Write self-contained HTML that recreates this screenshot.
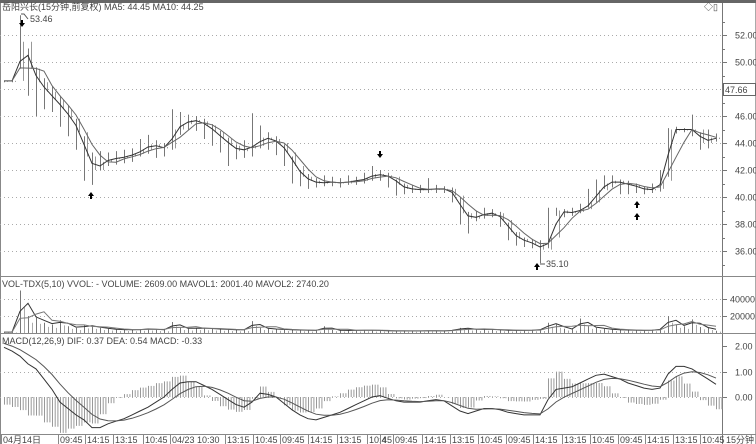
<!DOCTYPE html>
<html><head><meta charset="utf-8">
<style>
html,body{margin:0;padding:0;background:#fff;}
body{width:756px;height:444px;overflow:hidden;position:relative;font-family:"Liberation Sans","Noto Sans CJK SC",sans-serif;}
svg{position:absolute;left:0;top:0;}
text{font-family:"Liberation Sans","Noto Sans CJK SC",sans-serif;font-size:9px;fill:#444;}
</style></head>
<body>
<svg id="chart" width="756" height="444" viewBox="0 0 756 444"></svg>
<script>
const closes=[48.6,48.6,51.5,49.5,48.5,47.8,47.2,46.5,45.8,44.8,43.0,42.0,42.6,42.8,42.9,43.0,43.2,43.5,43.9,43.7,43.6,45.0,45.4,45.7,45.6,45.3,44.8,44.3,43.8,43.4,43.6,43.8,44.4,44.3,44.0,43.3,42.3,41.5,41.2,41.0,41.1,41.1,41.0,41.2,41.2,41.4,41.7,41.6,41.5,40.9,40.6,40.6,40.5,40.6,40.6,40.6,40.1,38.8,38.4,38.6,38.8,38.8,38.3,37.4,36.9,36.7,36.5,36.1,37.0,39.0,38.8,38.9,39.1,39.6,40.5,41.0,41.2,41.0,40.9,40.7,40.5,40.6,41.2,45.0,45.0,45.0,45.0,44.0,44.4,44.3];
const highs=[48.6,48.7,53.46,51.0,49.6,48.8,48.2,47.5,46.8,45.8,44.5,43.3,43.4,43.3,43.4,43.5,43.6,44.3,44.6,44.2,44.0,46.5,46.3,46.1,46.0,45.8,45.4,44.9,44.4,43.9,44.2,46.2,45.3,44.8,44.5,43.9,43.0,42.0,41.7,41.4,41.6,41.5,41.4,41.6,41.5,41.8,42.3,42.0,41.8,41.3,41.0,40.9,40.9,41.4,40.9,40.8,40.7,40.0,38.9,39.0,39.2,39.1,38.9,38.1,37.4,37.0,36.9,36.8,39.2,39.2,39.1,39.2,39.5,40.6,41.3,41.6,41.6,41.3,41.2,41.0,40.8,41.0,42.0,45.1,45.2,45.1,46.1,44.8,45.0,44.7];
const lows=[48.5,48.5,49.5,47.5,46.0,46.5,46.3,45.2,44.5,43.5,41.2,40.9,42.0,42.3,42.4,42.5,42.6,43.0,43.2,42.9,43.0,43.5,44.6,45.0,44.9,44.3,43.8,43.3,42.3,42.8,42.9,43.0,43.6,43.5,43.1,42.3,41.0,40.8,40.6,40.7,40.8,40.8,40.7,40.9,40.9,41.0,41.2,41.2,40.7,40.1,40.2,40.3,40.3,40.3,40.3,40.3,39.6,38.0,37.3,38.2,38.4,38.5,37.8,36.8,36.4,36.3,36.2,35.1,36.2,38.6,38.5,38.6,38.8,39.2,39.6,40.6,40.7,40.2,40.2,40.3,40.2,40.3,40.4,41.5,44.7,44.8,44.5,43.5,43.6,44.1];
const volumes=[1000,1000,50000,20000,18000,12000,10000,15000,8000,6000,9000,8000,6000,5000,4000,4000,3500,4500,5000,4000,3500,13000,6000,5000,6000,5500,5000,4500,4000,3500,4000,14000,6000,5000,4500,4000,3500,3500,3000,3000,8000,3500,3000,3000,3000,3500,3000,3000,2500,2500,2500,2500,2500,3000,2500,2500,3500,6000,5000,4000,4500,4000,3500,3000,3000,3000,3500,4000,12000,10000,5000,4500,17000,8000,6000,5000,4000,3500,3500,3000,3000,3500,5000,20000,10000,8000,16000,7000,6000,2600];
const difs=[1.95,1.8,1.6,1.3,1.1,0.7,0.3,-0.2,-0.45,-0.7,-0.9,-1.2,-1.2,-1.05,-0.95,-0.85,-0.7,-0.55,-0.4,-0.2,0.0,0.3,0.55,0.6,0.6,0.45,0.3,0.1,-0.1,-0.3,-0.4,-0.2,0.15,0.1,0.0,-0.25,-0.5,-0.7,-0.85,-0.9,-0.8,-0.7,-0.6,-0.45,-0.3,-0.15,0.0,0.05,-0.05,-0.15,-0.2,-0.2,-0.2,-0.15,-0.1,-0.15,-0.35,-0.55,-0.65,-0.55,-0.45,-0.45,-0.5,-0.6,-0.65,-0.7,-0.7,-0.7,-0.1,0.3,0.35,0.4,0.55,0.7,0.85,0.9,0.8,0.7,0.55,0.45,0.35,0.3,0.35,0.9,1.2,1.2,1.1,0.9,0.7,0.5];
const priceTicks=[52,50,46,44,42,40,38,36];
const volTicks=[40000,20000];
const macdTicks=[2,1,0];
const xLabels=["04月14日","09:45","14:15","13:15","10:45","04/23 10:30","13:15","10:45","09:45","14:15","13:15","10:4","45","09:45","14:15","13:15","10:45","09:45","14:15","13:15","10:45","09:45","14:15","13:15","10:45"];
const xLabelPos=[1,58,85,113,143,170,225,253,280,308,337,367,380,393,422,450,478,506,533,562,590,618,645,673,700];

const NS="http://www.w3.org/2000/svg";
const svg=document.getElementById('chart');
function el(tag,attrs,parent){const e=document.createElementNS(NS,tag);for(const k in attrs)e.setAttribute(k,attrs[k]);(parent||svg).appendChild(e);return e;}
const PW=723;
const xOf=i=>4+i*8;
const yP=p=>35+(52-p)*13.5;
const yV=v=>333-v*17/20000;
const yM=m=>397-m*25.5;

let e;
e=el('rect',{x:0,y:0,width:756,height:3,fill:'#666'});

e=el('line',{x1:0.5,y1:3,x2:0.5,y2:444,stroke:'#888'});
e=el('line',{x1:722.5,y1:3,x2:722.5,y2:444,stroke:'#777'});

e=el('line',{x1:755.5,y1:3,x2:755.5,y2:444,stroke:'#aaa'});
[276.5,333.5].forEach(y=>{el('line',{x1:0,y1:y,x2:756,y2:y,stroke:'#888'});});
e=el('line',{x1:0,y1:434.5,x2:756,y2:434.5,stroke:'#888'});


const g1=el('g',{});
priceTicks.forEach(p=>{const y=Math.round(yP(p))+0.5;el('line',{x1:0,y1:y,x2:PW,y2:y,stroke:'#aaa','stroke-dasharray':'1,3'},g1);el('line',{x1:PW,y1:y,x2:PW+4,y2:y,stroke:'#777'},g1);const t=el('text',{x:735,y:y+3},g1);t.textContent=p.toFixed(2);});
for(let p=35;p<=53;p+=1){const y=Math.round(yP(p))+0.5;el('line',{x1:PW,y1:y,x2:PW+2,y2:y,stroke:'#777'},g1);}
e=el('line',{x1:0,y1:89.5,x2:PW,y2:89.5,stroke:'#aaa','stroke-dasharray':'1,3'});
e=el('rect',{x:723.5,y:83.5,width:32,height:12,fill:'#fff',stroke:'#666'});

e=el('text',{x:725,y:93});e.textContent='47.66';


const g2=el('g',{});
volTicks.forEach(v=>{const y=Math.round(yV(v))+0.5;el('line',{x1:0,y1:y,x2:PW,y2:y,stroke:'#aaa','stroke-dasharray':'1,3'},g2);el('line',{x1:PW,y1:y,x2:PW+4,y2:y,stroke:'#777'},g2);const t=el('text',{x:730,y:y+3},g2);t.textContent=v;});
const g3=el('g',{});
macdTicks.forEach(m=>{const y=Math.round(yM(m))+0.5;if(m<2)el('line',{x1:0,y1:y,x2:PW,y2:y,stroke:'#aaa','stroke-dasharray':'1,3'},g3);el('line',{x1:PW,y1:y,x2:PW+4,y2:y,stroke:'#777'},g3);const t=el('text',{x:735,y:y+3},g3);t.textContent=m.toFixed(2);});

const gc=el('g',{});
closes.forEach((c,i)=>{
  const x=xOf(i)+0.5;
  const b=el('line',{x1:x,y1:yP(highs[i]),x2:x,y2:yP(lows[i]),stroke:'#777','stroke-width':1},gc);
  
  const o=i>0?closes[i-1]:c;
  const x2=x+3;
  const r=el('line',{x1:x2,y1:yP(o),x2:x2,y2:yP(c)+(o===c?1:0),stroke:'#999','stroke-width':1},gc);
  
});
function ma(arr,n){return arr.map((v,i)=>{const s=arr.slice(Math.max(0,i-n+1),i+1);return s.reduce((a,b)=>a+b,0)/s.length;});}
function pline(vals,yf,stroke,name){const p=vals.map((v,i)=>(i?'L':'M')+xOf(i)+','+yf(v).toFixed(1)).join('');const l=el('path',{d:p,fill:'none',stroke:stroke,'stroke-width':1});return l;}
pline(ma(closes,2),yP,'#333','ma5-line');
pline(ma(closes,4),yP,'#666','ma10-line');

const gv=el('g',{});
volumes.forEach((v,i)=>{const x=xOf(i)+0.5;const b=el('line',{x1:x,y1:333,x2:x,y2:yV(v),stroke:'#777'},gv);const b2=el('line',{x1:x+4,y1:333,x2:x+4,y2:yV(v*0.6),stroke:'#aaa'},gv);});
pline(ma(volumes,2),yV,'#333','mavol1-line');
pline(ma(volumes,4),yV,'#777','mavol2-line');

const deas=[];difs.forEach((d,i)=>{deas.push(i?deas[i-1]+0.35*(d-deas[i-1]):d+0.15);});
const gm=el('g',{});
difs.forEach((d,i)=>{const h=(d-deas[i])*2;for(let k=0;k<3;k++){const x=xOf(i)+k*2.7+0.5;const b=el('line',{x1:x,y1:yM(0),x2:x,y2:yM(h),stroke:'#999'},gm);}});
pline(difs,yM,'#333','dif-line');
pline(deas,yM,'#555','dea-line');

function txt(x,y,s,name){const t=el('text',{x:x,y:y});t.textContent=s;return t;}
txt(2,10,'岳阳兴长(15分钟,前复权) MA5: 44.45  MA10: 44.25','price-title');
txt(2,287,'VOL-TDX(5,10) VVOL: -   VOLUME: 2609.00  MAVOL1: 2001.40  MAVOL2: 2740.20','volume-title');
txt(2,344,'MACD(12,26,9) DIF: 0.37  DEA: 0.54  MACD: -0.33','macd-title');
txt(30,22,'53.46','high-label');
el('path',{d:'M21,14 L24,14 L28,19',fill:'none',stroke:'#555'});
txt(546,267,'35.10','low-label');
el('line',{x1:540,y1:264,x2:545,y2:264,stroke:'#555'});
e=el('text',{x:704,y:10});e.textContent='◇▯';

function arrow(x,y,up,name){const d=up?`M${x},${y-4}L${x+3},${y}L${x+1},${y}L${x+1},${y+3}L${x-1},${y+3}L${x-1},${y}L${x-3},${y}Z`:`M${x},${y+4}L${x+3},${y}L${x+1},${y}L${x+1},${y-3}L${x-1},${y-3}L${x-1},${y}L${x-3},${y}Z`;const a=el('path',{d:d,fill:'#000'});}
arrow(22,23,false,'sell-arrow');
arrow(91,196,true,'buy-arrow');
arrow(380,154,false,'sell-arrow');
arrow(537,267,true,'buy-arrow');
arrow(637,205,true,'buy-arrow');
arrow(637,217,true,'buy-arrow');

const gx=el('g',{});
xLabels.forEach((s,i)=>{const t=el('text',{x:xLabelPos[i]+2,y:443},gx);t.textContent=s;el('line',{x1:xLabelPos[i]+0.5,y1:435,x2:xLabelPos[i]+0.5,y2:444,stroke:'#888'},gx);});
txt(726,443,'15分钟','period-label');
</script>
</body></html>
